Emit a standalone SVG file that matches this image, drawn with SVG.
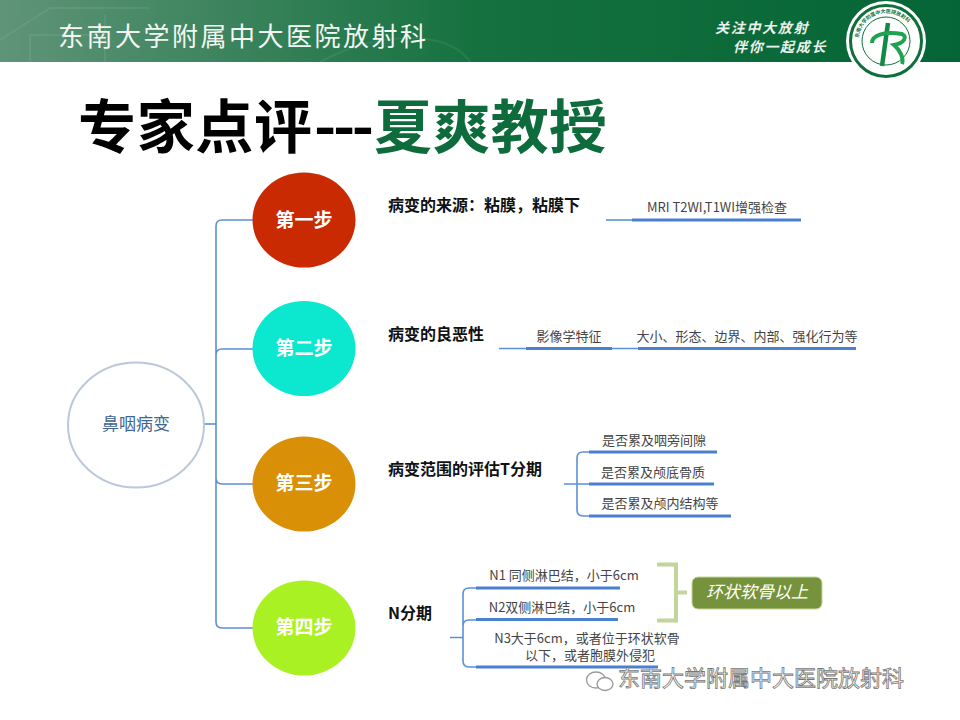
<svg xmlns="http://www.w3.org/2000/svg" xmlns:xlink="http://www.w3.org/1999/xlink" width="960" height="720" viewBox="0 0 960 720">
<style>
text{font-family:"Noto Sans CJK SC","Liberation Sans",sans-serif}
.h{font-family:"Noto Sans CJK SC","Liberation Sans",sans-serif;font-weight:700;fill:#111;font-size:16px}
.s{font-size:13px;fill:#444;text-anchor:middle}
.step{font-size:19px;font-weight:700;fill:#fff;text-anchor:middle}
.thin{fill:none;stroke:#5b90d8;stroke-width:1.6}
.thick{fill:none;stroke:#4a80d0;stroke-width:3}
</style>
<defs>
<linearGradient id="hd" x1="0" x2="1" y1="0" y2="0"><stop offset="0" stop-color="#5f9478"/><stop offset="0.5" stop-color="#15713f"/><stop offset="1" stop-color="#056536"/></linearGradient>
<path id="ringTop" d="M858.500 47a28 28 0 0 1 56 0"/>
<path id="ringBot" d="M853 47a33 33 0 0 0 67 0"/>
</defs>
<rect width="960" height="720" fill="#fff"/>
<g id="header">
<rect width="960" height="62" fill="url(#hd)"/>
<path d="M0 40L50 8H150M30 62V35H95M105 62V15M320 62C380 30 450 30 470 62" fill="none" stroke="#fff" stroke-opacity=".07" stroke-width="2"/>
<text x="58" y="46" font-size="26" fill="#f2f7f3" letter-spacing="2.500">东南大学附属中大医院放射科</text>
<text x="715" y="33" font-size="14" font-style="italic" font-weight="700" fill="#e9f2ec" letter-spacing="1.700">关注中大放射</text>
<text x="733" y="52" font-size="14" font-style="italic" font-weight="700" fill="#e9f2ec" letter-spacing="1.700">伴你一起成长</text>
</g>
<g id="logo">
<circle cx="886" cy="41" r="40" fill="#fff"/>
<circle cx="886" cy="41" r="35.500" fill="none" stroke="#0e6f3b" stroke-width="3"/>
<circle cx="886" cy="41" r="24" fill="#fff" stroke="#0e6f3b" stroke-width="1"/>
<g transform="translate(0 -6)" font-size="5" fill="#0e6f3b" font-weight="700">
<text><textPath href="#ringTop" startOffset="3">东南大学附属中大医院放射科</textPath></text>
</g>
<path d="M888 23L882 66" stroke="#128a45" stroke-width="4.500" fill="none"/>
<path d="M872 43C872 35 885 31 902 34C908 37 904 43 894 45C900 50 904 58 902 64" stroke="#1ea350" stroke-width="4" fill="none"/>
</g>
<g id="title" font-size="58" font-weight="700">
<text x="78" y="148" fill="#000" textLength="234">专家点评</text>
<text x="314" y="148" fill="#000" font-family="Liberation Sans" font-size="60" textLength="60">---</text>
<text x="374" y="148" fill="#0e6b3c" textLength="233">夏爽教授</text>
</g>
<g id="connectors">
<path class="thin" d="M204 424H216"/>
<path class="thin" d="M253 220H222Q216 220 216 226V622Q216 628 222 628H253M253 349H222Q216 349 216 355M216 478Q216 484 222 484H253"/>
<path class="thin" d="M606 220H632"/>
<path class="thick" d="M632 220H801"/>
<path class="thin" d="M499 348.500H526M612 348.500H638"/>
<path class="thick" d="M526 348.500H612M638 348.500H856"/>
<path class="thin" d="M564 484H577M589 452H583Q577 452 577 458V510Q577 516 583 516H589M577 484H589"/>
<path class="thick" d="M589 452H717M589 484H714M589 516H731"/>
<path class="thin" d="M450 637.500H463M476 588H469Q463 588 463 594V661Q463 667 469 667H476M476 620H469Q463 620 463 626"/>
<path class="thick" d="M476 588H620M476 619.500H618M476 667H658"/>
<path d="M657 564.500H676V620.500H657M676 592.500H687" fill="none" stroke="#c2d69b" stroke-width="4"/>
</g>
<g id="root"><ellipse cx="136" cy="425" rx="68" ry="62.500" fill="#fff" stroke="#bcc8da" stroke-width="2"/><text x="136" y="430" font-size="17" fill="#3f6592" text-anchor="middle">鼻咽病变</text></g>
<g id="step1"><ellipse cx="304" cy="220" rx="51.500" ry="47.500" fill="#c92a02"/><text class="step" x="304" y="227">第一步</text></g>
<g id="step2"><ellipse cx="304" cy="348.500" rx="51.500" ry="47.500" fill="#0ce8d0"/><text class="step" x="304" y="355">第二步</text></g>
<g id="step3"><ellipse cx="304" cy="484" rx="51.500" ry="47.500" fill="#da9006"/><text class="step" x="304" y="490">第三步</text></g>
<g id="step4"><ellipse cx="304" cy="628" rx="51.500" ry="47.500" fill="#aaf124"/><text class="step" x="304" y="634">第四步</text></g>
<g id="n1">
<text class="h" x="388" y="211">病变的来源：粘膜，粘膜下</text>
<text class="s" x="717" y="212">MRI T2WI,T1WI增强检查</text>
</g>
<g id="n2">
<text class="h" x="388" y="340">病变的良恶性</text>
<text class="s" x="569" y="341">影像学特征</text>
<text class="s" x="747" y="341" font-size="12">大小、形态、边界、内部、强化行为等</text>
</g>
<g id="n3">
<text class="h" x="388" y="475">病变范围的评估T分期</text>
<text class="s" x="654" y="445">是否累及咽旁间隙</text>
<text class="s" x="653" y="477">是否累及颅底骨质</text>
<text class="s" x="660" y="508">是否累及颅内结构等</text>
</g>
<g id="n4">
<text class="h" x="388" y="619" font-size="18">N分期</text>
<text class="s" x="564" y="580">N1 同侧淋巴结，小于6cm</text>
<text class="s" x="562" y="612">N2双侧淋巴结，小于6cm</text>
<text class="s" x="587" y="643">N3大于6cm，或者位于环状软骨</text>
<text class="s" x="590" y="660">以下，或者胞膜外侵犯</text>
</g>
<g id="tag"><rect x="692" y="577" width="130" height="32" rx="6" fill="#76923c" stroke="#c2d69b" stroke-width="1"/><text x="757" y="598" font-size="17" font-style="italic" fill="#fff" text-anchor="middle">环状软骨以上</text></g>
<g id="watermark">
<g fill="none" stroke="#9a9a9a" stroke-width="1.300"><ellipse cx="596" cy="680" rx="9.500" ry="8"/><ellipse cx="605" cy="684" rx="8" ry="6.500" fill="#fff"/></g>
<text x="618" y="686" font-size="22" fill="#fff" stroke="#777" stroke-width=".8">东南大学附属中大医院放射科</text>
</g>
</svg>
